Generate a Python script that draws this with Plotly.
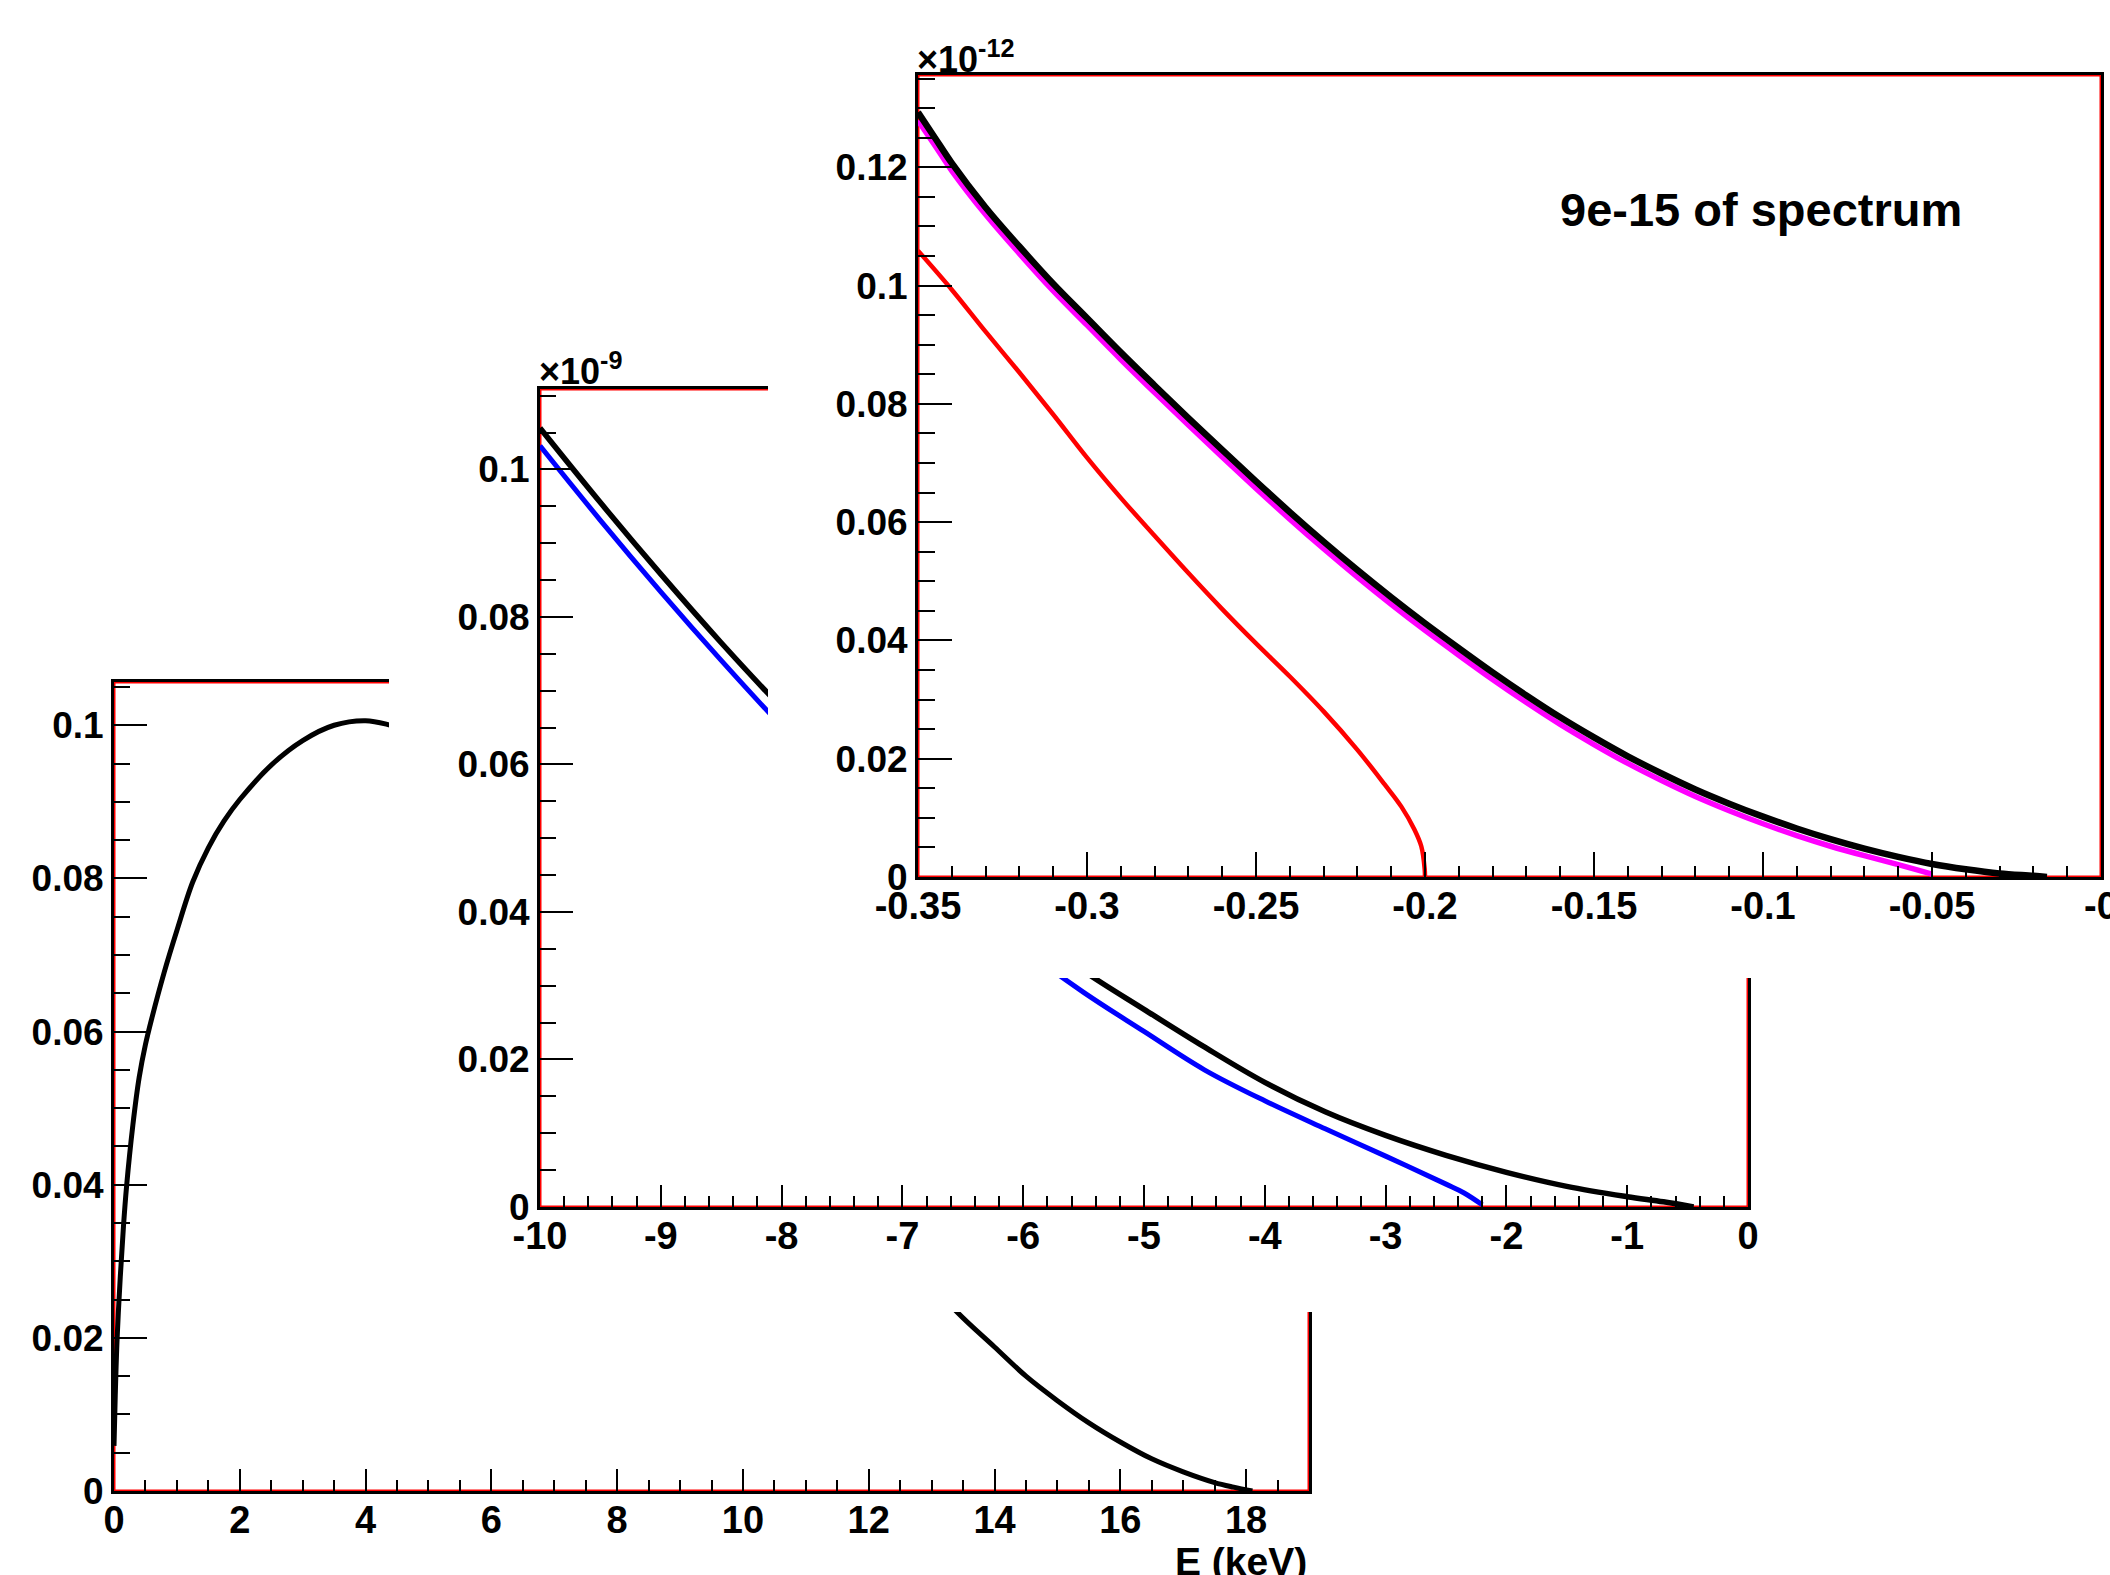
import plotly.graph_objects as go

W, H = 2110, 1575

# ---------------- data ----------------
# main panel: full spectrum (keV)
main_E = [0.0, 0.02, 0.05, 0.1, 0.15, 0.2, 0.3, 0.4, 0.5, 0.6, 0.8, 1.0, 1.25, 1.5, 1.75,
          2.0, 2.5, 3.0, 3.5, 4.0, 4.4, 5.0, 6.0, 7.0, 8.0, 9.0, 10.0, 11.0, 12.0, 13.0,
          13.4, 14.0, 14.5, 15.0, 15.5, 16.0, 16.5, 17.0, 17.5, 17.8, 18.1]
main_val = [0.0059, 0.0125, 0.0200, 0.0280, 0.0345, 0.0398, 0.0478, 0.0540, 0.0583, 0.0617,
            0.0678, 0.0732, 0.0795, 0.0840, 0.0875, 0.0903, 0.0948, 0.0980, 0.1000, 0.1006,
            0.1000, 0.0985, 0.0935, 0.0862, 0.0772, 0.0672, 0.0570, 0.0468, 0.0368, 0.0272,
            0.0234, 0.0188, 0.0150, 0.0118, 0.0089, 0.0064, 0.0042, 0.0025, 0.0011, 0.0005,
            0.0]

# middle panel: last 10 keV (x1e-9)
mid_black_E = [-10.0, -9.5, -9.0, -8.5, -8.0, -7.5, -7.0, -6.5, -6.0, -5.5, -5.0, -4.5,
               -4.0, -3.5, -3.0, -2.5, -2.0, -1.5, -1.0, -0.7, -0.45]
mid_black_val = [0.1056, 0.0955, 0.0858, 0.0765, 0.0677, 0.0595, 0.0519, 0.0449, 0.0380,
                 0.0320, 0.0268, 0.0217, 0.0169, 0.0129, 0.0097, 0.0070, 0.0047, 0.0028,
                 0.0014, 0.0007, 0.0]
mid_blue_E = [-10.0, -9.5, -9.0, -8.5, -8.0, -7.5, -7.0, -6.5, -6.0, -5.5, -5.0, -4.5,
              -4.0, -3.5, -3.0, -2.5, -2.35, -2.2]
mid_blue_val = [0.1032, 0.0931, 0.0834, 0.0741, 0.0652, 0.0569, 0.0491, 0.0418, 0.0350,
                0.0291, 0.0238, 0.0186, 0.0144, 0.0106, 0.0069, 0.0031, 0.0019, 0.0003]

# top panel: last 0.35 keV (x1e-12)
top_black_E = [-0.35, -0.345, -0.34, -0.33, -0.32, -0.31, -0.30, -0.29, -0.28, -0.27, -0.26,
               -0.25, -0.24, -0.23, -0.22, -0.21, -0.20, -0.19, -0.18, -0.17, -0.16, -0.15,
               -0.14, -0.13, -0.12, -0.11, -0.10, -0.09, -0.08, -0.07, -0.06, -0.05, -0.04,
               -0.03, -0.02, -0.016]
top_black_val = [0.1293, 0.1250, 0.1207, 0.1132, 0.1066, 0.1003, 0.0945, 0.0887, 0.0831,
                 0.0776, 0.0722, 0.0669, 0.0617, 0.0567, 0.0519, 0.0473, 0.0429, 0.0387,
                 0.0346, 0.0307, 0.0270, 0.0236, 0.0204, 0.0175, 0.0148, 0.0124, 0.0102,
                 0.0082, 0.0064, 0.0048, 0.0034, 0.0022, 0.0013, 0.0006, 0.0002, 0.0]
top_mag_E = [-0.35, -0.345, -0.34, -0.33, -0.32, -0.31, -0.30, -0.29, -0.28, -0.27, -0.26,
             -0.25, -0.24, -0.23, -0.22, -0.21, -0.20, -0.19, -0.18, -0.17, -0.16, -0.15,
             -0.14, -0.13, -0.12, -0.11, -0.10, -0.09, -0.08, -0.07, -0.06, -0.05]
top_mag_val = [0.1279, 0.1237, 0.1194, 0.1120, 0.1054, 0.0991, 0.0933, 0.0875, 0.0819,
               0.0764, 0.0710, 0.0657, 0.0605, 0.0555, 0.0507, 0.0461, 0.0417, 0.0375,
               0.0334, 0.0295, 0.0258, 0.0224, 0.0192, 0.0163, 0.0136, 0.0112, 0.0090,
               0.0070, 0.0052, 0.0036, 0.0021, 0.0005]
top_red_E = [-0.35, -0.34, -0.33, -0.32, -0.31, -0.30, -0.29, -0.28, -0.27, -0.26, -0.25,
             -0.24, -0.23, -0.22, -0.212, -0.207, -0.2031, -0.2011, -0.2001, -0.2]
top_red_val = [0.1059, 0.0993, 0.0922, 0.0853, 0.0782, 0.0709, 0.0641, 0.0577, 0.0514,
               0.0453, 0.0395, 0.0339, 0.0280, 0.0215, 0.0157, 0.0119, 0.0080, 0.0052,
               0.0014, 0.0]

main_xticks = [0, 2, 4, 6, 8, 10, 12, 14, 16, 18]
main_yticks = [0, 0.02, 0.04, 0.06, 0.08, 0.1]
mid_xticks = [-10, -9, -8, -7, -6, -5, -4, -3, -2, -1, 0]
mid_yticks = [0, 0.02, 0.04, 0.06, 0.08, 0.1]
top_xticks = [-0.35, -0.3, -0.25, -0.2, -0.15, -0.1, -0.05, 0]
top_xtext = ["-0.35", "-0.3", "-0.25", "-0.2", "-0.15", "-0.1", "-0.05", "-0"]
top_yticks = [0, 0.02, 0.04, 0.06, 0.08, 0.1, 0.12]


def lab(v):
    return "%g" % v


def dxp(a, b):
    return [a / W, b / W]


def dyp(top, bottom):
    return [1 - bottom / H, 1 - top / H]


FONT = "Liberation Sans, Arial, sans-serif"

fig = go.Figure()


def curve(x, y, color, ax, width):
    fig.add_trace(go.Scatter(x=x, y=y, mode="lines",
                             line=dict(color=color, width=width, shape="spline", smoothing=1.0),
                             xaxis="x" + ax, yaxis="y" + ax,
                             showlegend=False, hoverinfo="skip"))


# main (x, y)
curve(main_E, main_val, "black", "", 5)
# middle pad (x2, y2) -- white cover behind the middle inset
fig.add_trace(go.Scatter(x=[], y=[], xaxis="x2", yaxis="y2", showlegend=False))
# middle (x3, y3)
curve(mid_blue_E, mid_blue_val, "#0000ff", "3", 5)
curve(mid_black_E, mid_black_val, "black", "3", 5.5)
# top pad (x4, y4) -- white cover behind the top inset
fig.add_trace(go.Scatter(x=[], y=[], xaxis="x4", yaxis="y4", showlegend=False))
# top (x5, y5)
curve(top_red_E, top_red_val, "#ff0000", "5", 4.5)
curve(top_mag_E, top_mag_val, "#ff00ff", "5", 5.5)
curve(top_black_E, top_black_val, "black", "5", 6.5)


def xaxis_cfg(dom, rng, tickvals, ticktext, dtick_minor, anchor, fsize=38, major=22, minor=11):
    return dict(domain=dom, range=rng, anchor=anchor, showgrid=False, zeroline=False,
                automargin=False,
                showline=True, linecolor="black", linewidth=3, mirror=True,
                ticks="inside", ticklen=major, tickwidth=2, tickcolor="black",
                tickvals=tickvals, ticktext=ticktext, ticklabeloverflow="allow",
                ticklabelstandoff=-7,
                tickfont=dict(family=FONT, size=fsize, color="black", weight="bold"),
                minor=dict(ticks="inside", ticklen=minor, tickwidth=2, tickcolor="black",
                           dtick=dtick_minor, tick0=rng[0], showgrid=False),
                fixedrange=True)


def yaxis_cfg(dom, rng, tickvals, ticktext, dtick_minor, anchor, fsize=37, major=33, minor=16):
    return dict(domain=dom, range=rng, anchor=anchor, showgrid=False, zeroline=False,
                automargin=False,
                showline=True, linecolor="black", linewidth=3, mirror=True,
                ticks="inside", ticklen=major, tickwidth=2, tickcolor="black",
                tickvals=tickvals, ticktext=ticktext, ticklabeloverflow="allow",
                tickfont=dict(family=FONT, size=fsize, color="black", weight="bold"),
                minor=dict(ticks="inside", ticklen=minor, tickwidth=2, tickcolor="black",
                           dtick=dtick_minor, tick0=0, showgrid=False),
                fixedrange=True)


pad_axis = dict(visible=False, range=[0, 1], fixedrange=True, showgrid=False,
                zeroline=False, automargin=False)

main_rng_x, main_rng_y = [0, 19], [0, 0.10565]
mid_rng_x, mid_rng_y = [-10, 0], [0, 0.1109]
top_rng_x, top_rng_y = [-0.35, 0], [0, 0.1356]

fig.update_layout(
    template="none",
    width=W, height=H, autosize=False,
    margin=dict(l=0, r=0, t=0, b=0, pad=0, autoexpand=False),
    paper_bgcolor="white", plot_bgcolor="white",
    showlegend=False,
    xaxis=xaxis_cfg(dxp(114, 1309), main_rng_x, main_xticks, [lab(v) for v in main_xticks], 0.5, "y"),
    yaxis=yaxis_cfg(dyp(682, 1491), main_rng_y, main_yticks, [lab(v) for v in main_yticks], 0.005, "x"),
    xaxis2=dict(pad_axis, domain=dxp(389, 1790), anchor="y2"),
    yaxis2=dict(pad_axis, domain=dyp(300, 1312), anchor="x2"),
    xaxis3=xaxis_cfg(dxp(540, 1748), mid_rng_x, mid_xticks, [lab(v) for v in mid_xticks], 0.2, "y3"),
    yaxis3=yaxis_cfg(dyp(389, 1207), mid_rng_y, mid_yticks, [lab(v) for v in mid_yticks], 0.005, "x3"),
    xaxis4=dict(pad_axis, domain=dxp(768, 2110), anchor="y4"),
    yaxis4=dict(pad_axis, domain=dyp(0, 978), anchor="x4"),
    xaxis5=xaxis_cfg(dxp(918, 2101), top_rng_x, top_xticks, top_xtext, 0.01, "y5", major=25, minor=11),
    yaxis5=yaxis_cfg(dyp(75, 877), top_rng_y, top_yticks, [lab(v) for v in top_yticks], 0.005, "x5", major=34, minor=17),
)

# thin red frames inside each plot frame (drawn in each subplot's own layer)
for ax, rx, ry in [("", main_rng_x, main_rng_y), ("3", mid_rng_x, mid_rng_y), ("5", top_rng_x, top_rng_y)]:
    fig.add_shape(type="rect", xref="x" + ax, yref="y" + ax, x0=rx[0], x1=rx[1], y0=ry[0], y1=ry[1],
                  line=dict(color="#ff0000", width=3), fillcolor="rgba(0,0,0,0)", layer="below")

ann_font = dict(family=FONT, color="black", weight="bold")
fig.add_annotation(text="E (keV)", xref="paper", yref="paper", x=1309 / W, y=1 - 1538 / H,
                   xanchor="right", yanchor="top", showarrow=False, font=dict(ann_font, size=39))
fig.add_annotation(text="×10<sup>-9</sup>", xref="paper", yref="paper", x=537 / W, y=1 - 394 / H,
                   xanchor="left", yanchor="bottom", showarrow=False, font=dict(ann_font, size=36))
fig.add_annotation(text="×10<sup>-12</sup>", xref="paper", yref="paper", x=915 / W, y=1 - 82 / H,
                   xanchor="left", yanchor="bottom", showarrow=False, font=dict(ann_font, size=36))
fig.add_annotation(text="9e-15 of spectrum", xref="paper", yref="paper", x=1761 / W, y=1 - 210 / H,
                   xanchor="center", yanchor="middle", showarrow=False, font=dict(ann_font, size=47))

fig.write_html("out.html", config=dict(displayModeBar=False, staticPlot=True),
               post_script="document.body.style.margin='0px';document.body.style.overflow='hidden';")
